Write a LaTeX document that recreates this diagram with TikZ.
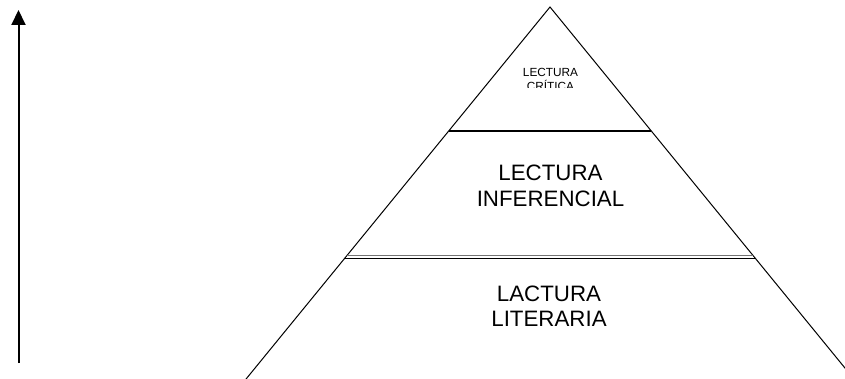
\documentclass[tikz,border=0pt]{standalone}
\usepackage{fontspec}
\setmainfont{Liberation Sans}
\usetikzlibrary{arrows.meta,calc}
\begin{document}
\begin{tikzpicture}[x=1pt,y=-1pt,
  side/.style={line width=1pt,line cap=round},
  bigtext/.style={font=\fontsize{22.3}{26}\selectfont,inner sep=0pt,anchor=base},
  smalltext/.style={font=\fontsize{11.8}{13.5}\selectfont,inner sep=0pt,anchor=base}]
\useasboundingbox (0,0) rectangle (845,379);
\fill[white] (0,0) rectangle (845,379);
% arrow
\coordinate (arrbot) at (18.5,363);
\coordinate (arrtop) at (18.5,10);
\draw[line width=2pt,-{Triangle[length=15pt,width=14pt]}] (arrbot) -- (arrtop);
% pyramid
\coordinate (apex) at (550,7);
\coordinate (bl) at ($(apex)+(-0.817*400,400)$);
\coordinate (br) at ($(apex)+(0.817*400,400)$);
\begin{scope}
\clip (0,0) rectangle (845,379);
\draw[side] (bl) -- (apex) -- (br);
\end{scope}
% level lines
\coordinate (l1) at ($(apex)+(-0.817*124,124)$);
\coordinate (r1) at ($(apex)+(0.817*124,124)$);
\coordinate (l2) at ($(apex)+(-0.817*248.5,248.5)$);
\coordinate (r2) at ($(apex)+(0.817*248.5,248.5)$);
\coordinate (l3) at ($(apex)+(-0.817*251.5,251.5)$);
\coordinate (r3) at ($(apex)+(0.817*251.5,251.5)$);
\draw[line width=2.4pt] (l1) -- (r1);
\draw[line width=1pt,black!55] (l2) -- (r2);
\draw[line width=1.4pt] (l3) -- (r3);
% texts
\begin{scope}
\clip (450,55) rectangle (650,88);
\node[smalltext] (t1a) at (550.5,76.7) {LECTURA};
\node[smalltext] (t1b) at (550.5,90.3) {CRÍTICA};
\end{scope}
\node[bigtext] (t2a) at (550.5,181) {LECTURA};
\node[bigtext] (t2b) at (550.5,207) {INFERENCIAL};
\node[bigtext] (t3a) at (549,301) {LACTURA};
\node[bigtext] (t3b) at (549,326.5) {LITERARIA};
\end{tikzpicture}
\end{document}
